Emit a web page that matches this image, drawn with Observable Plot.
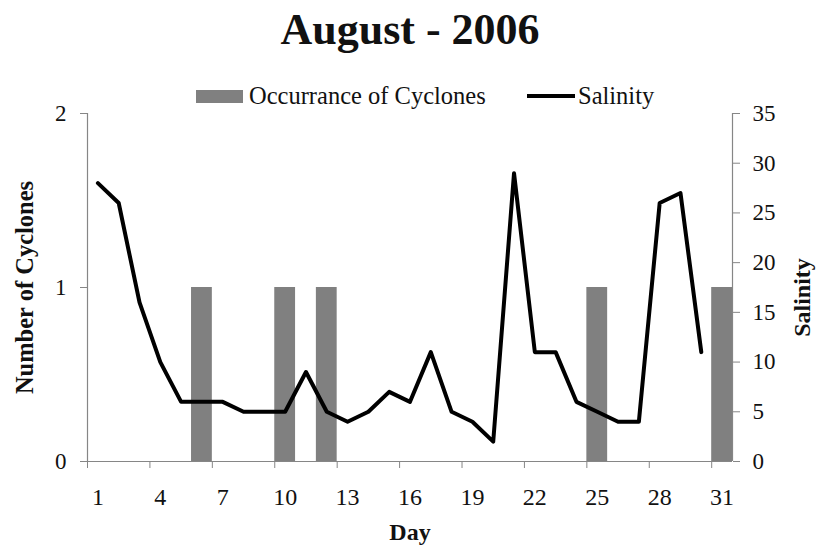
<!DOCTYPE html>
<html>
<head>
<meta charset="utf-8">
<script src="https://cdn.jsdelivr.net/npm/d3@7"></script>
<script src="https://cdn.jsdelivr.net/npm/@observablehq/plot@0.6"></script>
<style>
  body { margin: 0; background: white; font-family: "Liberation Serif", "Times New Roman", serif; }
  #wrap { width: 820px; }
  #title { height: 60px; line-height: 60px; text-align: center; font-size: 44px; font-weight: bold; color: #111; }
  #legend { position: relative; height: 44px; font-size: 24.5px; color: #111; }
  .item { position: absolute; top: 28px; height: 16px; display: flex; align-items: center; white-space: nowrap; }
  .sw-bar { width: 47px; height: 13px; background: #808080; margin-right: 6px; }
  .sw-line { width: 48px; height: 4px; background: #000; margin-right: 3px; }
</style>
</head>
<body>
<div id="wrap">
  <div id="title"></div>
  <div id="legend"></div>
  <div id="chart"></div>
</div>
<script>
const chartTitle = "August - 2006";
const legendLabels = ["Occurrance of Cyclones", "Salinity"];
const xTitle = "Day";
const yLeftTitle = "Number of Cyclones";
const yRightTitle = "Salinity";

const days = [1,2,3,4,5,6,7,8,9,10,11,12,13,14,15,16,17,18,19,20,21,22,23,24,25,26,27,28,29,30];
const salinity = [28,26,16,10,6,6,6,5,5,5,9,5,4,5,7,6,11,5,4,2,29,11,11,6,5,4,4,26,27,11];

const cycloneDays = [6,10,12,25,31];
const cycloneCounts = [1,1,1,1,1];

const xTickLabels = [1,4,7,10,13,16,19,22,25,28,31];
const xTickMarks = [0.5,3.5,6.5,9.5,12.5,15.5,18.5,21.5,24.5,27.5,30.5];
const leftTicks = [0,1,2];
const rightTicks = [0,5,10,15,20,25,30,35];
const leftMax = 2, rightMax = 35;

document.getElementById("title").textContent = chartTitle;
const legend = document.getElementById("legend");
legend.innerHTML =
  `<div class="item" style="left:196px"><div class="sw-bar"></div><span>${legendLabels[0]}</span></div>` +
  `<div class="item" style="left:527px"><div class="sw-line"></div><span>${legendLabels[1]}</span></div>`;

const toLeft = v => v * leftMax / rightMax;
const salData = days.map((d, i) => ({day: d, s: salinity[i]}));
const cycData = cycloneDays.map((d, i) => ({day: d, n: cycloneCounts[i]}));
const axisGray = "#868686";

const chart = Plot.plot({
  width: 820,
  height: 444,
  marginTop: 9,
  marginBottom: 87,
  marginLeft: 87,
  marginRight: 88,
  style: {fontFamily: '"Liberation Serif", "Times New Roman", serif', fontSize: "23px", color: "#111", background: "transparent", overflow: "visible"},
  x: {domain: [0.5, 31.5]},
  y: {domain: [0, leftMax]},
  marks: [
    Plot.rectY(cycData, {x1: d => d.day - 0.5, x2: d => d.day + 0.5, y1: 0, y2: "n", fill: "#808080"}),
    Plot.ruleY([0], {stroke: axisGray, strokeWidth: 1.2}),
    Plot.ruleX([0.5], {y1: 0, y2: leftMax, stroke: axisGray, strokeWidth: 1.2}),
    Plot.ruleX([31.5], {y1: 0, y2: leftMax, stroke: axisGray, strokeWidth: 1.2}),
    Plot.axisX({ticks: xTickMarks, tickFormat: () => "", tickSize: 7, stroke: axisGray, label: null}),
    Plot.axisX({ticks: xTickLabels, tickFormat: d => String(d), tickSize: 0, tickPadding: 26, label: null, fontSize: 24}),
    Plot.axisY({ticks: leftTicks, tickFormat: d => String(d), tickSize: 7, tickPadding: 14, stroke: axisGray, label: null, fontSize: 23}),
    Plot.axisY({anchor: "right", ticks: rightTicks.map(toLeft), tickFormat: d => String(Math.round(d * rightMax / leftMax)), tickSize: 7, tickPadding: 13, stroke: axisGray, label: null, fontSize: 23}),
    Plot.line(salData, {x: "day", y: d => toLeft(d.s), stroke: "black", strokeWidth: 4}),
    Plot.text([xTitle], {frameAnchor: "bottom", dy: 78, text: d => d, fontWeight: "bold", fontSize: 24}),
    Plot.text([yLeftTitle], {frameAnchor: "left", textAnchor: "middle", dx: -62, rotate: -90, text: d => d, fontWeight: "bold", fontSize: 24.5}),
    Plot.text([yRightTitle], {frameAnchor: "right", textAnchor: "middle", dx: 70, dy: 10, rotate: -90, text: d => d, fontWeight: "bold", fontSize: 24})
  ]
});
document.getElementById("chart").appendChild(chart);
</script>
</body>
</html>
